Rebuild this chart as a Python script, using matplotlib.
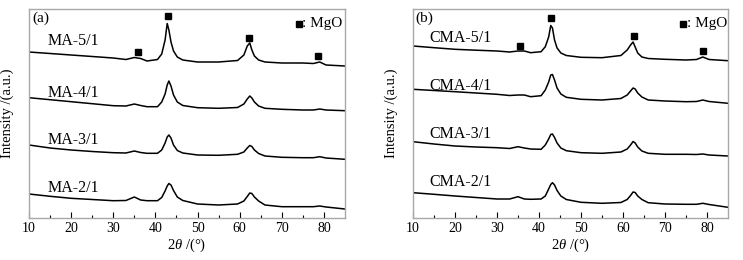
import numpy as np
import matplotlib
matplotlib.use("Agg")
import matplotlib.pyplot as plt

plt.rcParams["font.family"] = ["Liberation Serif", "DejaVu Serif"]
plt.rcParams["mathtext.fontset"] = "custom"
plt.rcParams["mathtext.rm"] = "Liberation Serif"
plt.rcParams["mathtext.it"] = "Liberation Serif:italic"

# 2theta sampling points (deg), shared by every curve
theta = [10, 15, 20, 25, 30, 33, 35, 36.5, 38, 40.5, 41.5, 42.3, 42.8, 43.2, 43.7,
         44.3, 45.2, 46.5, 50, 55, 59.5, 61, 61.8, 62.4, 62.9, 63.5, 64.5, 66, 70,
         75, 77.5, 79, 80.5, 85]

# (a) MA samples, stacked intensity (a.u.)
ma_5 = [166, 164.5, 163, 161.5, 160, 158.5, 160.5, 159.5, 157, 158.5, 164, 178, 194.5,
        188, 176, 167, 161, 158, 156, 156, 157.5, 163, 172, 175, 168, 162, 158, 156,
        155, 155, 154.5, 156, 153, 152]
ma_4 = [120.3, 118.3, 116.3, 114.3, 112.3, 112, 114, 112.5, 111.3, 111.3, 116, 124, 133,
        137, 132, 123, 116, 112.5, 110.3, 109.7, 110.5, 114, 119, 122, 120, 116, 112,
        109.7, 108.7, 108, 108, 109, 108, 107.3]
ma_3 = [73, 70, 68, 66.5, 65.3, 65, 67, 65.5, 64.7, 64.7, 68, 75, 81, 83, 80, 73, 67.5,
        65, 63, 62.7, 63.7, 66, 70, 72.5, 71.5, 68, 64.5, 62, 60.7, 60.3, 60.3, 61.3,
        60, 58.7]
ma_2 = [24, 21.7, 19.7, 18.5, 17.3, 17.5, 21, 18, 17.3, 17.3, 20.5, 27, 32, 34.5, 33,
        27.5, 21, 17.5, 14, 13, 14, 17, 21.5, 25, 24.5, 21, 17, 13, 11.3, 11.3, 11.3,
        12, 11, 9]

# (b) CMA samples
cma_5 = [172, 170.3, 168.7, 167.8, 167, 166, 167, 167, 165.3, 166.3, 171.3, 181, 192.5,
         190, 178, 170, 165, 162.5, 160.7, 160.3, 162.5, 168, 173, 176, 171, 165, 161,
         159.5, 158.7, 158, 158.5, 161, 158.5, 157.3]
cma_4 = [128.7, 127.5, 126.3, 125, 123.7, 122.5, 123, 123, 121.3, 122.3, 128, 136, 143,
         143.5, 138, 130, 124, 120.7, 118.7, 118, 119.5, 123, 127, 130, 129, 125, 121,
         118, 117, 116.3, 116.5, 118, 116.5, 114.7]
cma_3 = [76.3, 74, 72, 71, 70.3, 69.5, 71.3, 70, 69, 68.7, 73, 79, 83.5, 84, 80.5, 75,
         70, 67.3, 65.3, 64.7, 66, 69, 73, 76.5, 75, 71, 67, 64.7, 63.7, 63.7, 63.5, 64,
         63, 62]
cma_2 = [25.3, 23.7, 22, 20.5, 19, 19, 21.3, 19, 18.7, 19, 22, 29, 33.5, 35.3, 33, 27.5,
         22, 18.5, 15.7, 14.7, 15.5, 18.5, 22.5, 26, 25.5, 22, 18.5, 15.3, 14, 13.7,
         13.7, 14.7, 13.5, 10.7]

labels_a = ["MA-5/1", "MA-4/1", "MA-3/1", "MA-2/1"]
labels_b = ["CMA-5/1", "CMA-4/1", "CMA-3/1", "CMA-2/1"]
label_y_a = [177, 125, 78, 30]
label_y_b = [180, 132, 84, 36]

# MgO reflection markers (2theta, height)
mgo_a_x = [35.8, 43.1, 62.3, 78.7]
mgo_a_y = [166.3, 201.7, 179.7, 162.3]
mgo_b_x = [35.5, 42.8, 62.5, 79.0]
mgo_b_y = [172.3, 199.7, 182.3, 167]

panels = [
    ("(a)", [ma_5, ma_4, ma_3, ma_2], labels_a, label_y_a, 14.3, mgo_a_x, mgo_a_y, 74.1),
    ("(b)", [cma_5, cma_4, cma_3, cma_2], labels_b, label_y_b, 14.0, mgo_b_x, mgo_b_y, 74.4),
]

fig = plt.figure(figsize=(7.43, 2.6), dpi=100)
lefts = [29 / 743, 413 / 743]
widths = [316 / 743, 315 / 743]

for k, (tag, curves, labs, laby, labx, mx, my, legx) in enumerate(panels):
    ax = fig.add_axes([lefts[k], 42 / 260, widths[k], 209 / 260])
    for c in curves:
        ax.plot(theta, c, color="black", lw=1.1)
    for lab, yy in zip(labs, laby):
        ax.text(labx, yy, lab, fontsize=11.5, ha="left", va="center")
    ax.plot(mx, my, "s", color="black", ms=4.8)
    ax.plot([legx], [194], "s", color="black", ms=4)
    ax.text(legx + 0.8, 194, ": MgO", fontsize=11, ha="left", va="center")
    ax.text(10.9 if k == 0 else 10.6, 200, tag, fontsize=11, ha="left", va="center")

    ax.set_xlim(10, 85)
    ax.set_ylim(0, 209)
    ax.set_yticks([])
    ax.set_xticks(np.arange(10, 81, 10))
    ax.set_xticks(np.arange(15, 85, 10), minor=True)
    ax.tick_params(axis="x", which="major", direction="in", length=4, width=0.8,
                   labelsize=10, pad=3)
    ax.tick_params(axis="x", which="minor", direction="in", length=2.5, width=0.8)
    for sp in ax.spines.values():
        sp.set_color("#a8a8a8")
        sp.set_linewidth(1.0)
    ax.set_xlabel(r"$\mathit{2\theta}$ /(°)", fontsize=10.5, labelpad=1)
    ax.set_ylabel("Intensity /(a.u.)", fontsize=10.5)
    ax.yaxis.set_label_coords(-0.048, 0.5)

plt.savefig("out.png", dpi=100)
